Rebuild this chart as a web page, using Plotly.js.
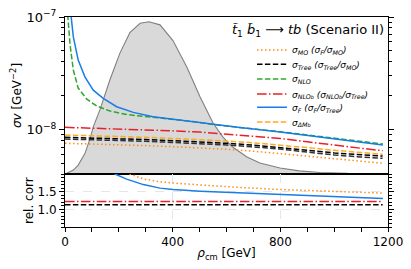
<!DOCTYPE html>
<html><head><meta charset="utf-8">
<script src="https://cdn.plot.ly/plotly-3.0.1.min.js"></script>
<style>html,body{margin:0;padding:0;background:#fff}#chart{width:411px;height:269px}</style>
</head><body><div id="chart"></div>
<script>
// ---- data ----
const rho = [0,100,200,300,400,500,600,700,800,900,1000,1100,1180];
const sigmaMO   = [0.7561e-8,0.7468e-8,0.7347e-8,0.7214e-8,0.7053e-8,0.6883e-8,0.6689e-8,0.6435e-8,0.6139e-8,0.5810e-8,0.5521e-8,0.5246e-8,0.5026e-8];
const sigmaTree = [0.8546e-8,0.8442e-8,0.8305e-8,0.8154e-8,0.7973e-8,0.7780e-8,0.7561e-8,0.7287e-8,0.6967e-8,0.6568e-8,0.6203e-8,0.5979e-8,0.5822e-8];
const sigmaTreeB= [0.8254e-8,0.8154e-8,0.8022e-8,0.7876e-8,0.7700e-8,0.7514e-8,0.7302e-8,0.7024e-8,0.6717e-8,0.6317e-8,0.5954e-8,0.5716e-8,0.5566e-8];
const sigmaNLOb = [1.048e-8,1.033e-8,1.0165e-8,0.9959e-8,0.9758e-8,0.9503e-8,0.9142e-8,0.8758e-8,0.8339e-8,0.7796e-8,0.7258e-8,0.6830e-8,0.6502e-8];
const sigmaDMb  = [0.8956e-8,0.8847e-8,0.8704e-8,0.8546e-8,0.8356e-8,0.8154e-8,0.7924e-8,0.7638e-8,0.7302e-8,0.6925e-8,0.6554e-8,0.6266e-8,0.6040e-8];

const rhoF   = [22,31,49,74,105,142,192,254,327,401,476,565,650,799,947,1050,1181];
const sigmaF = [1.05e-7,6.66e-8,4.14e-8,2.94e-8,2.24e-8,1.894e-8,1.596e-8,1.423e-8,1.301e-8,1.233e-8,1.174e-8,1.098e-8,1.044e-8,0.952e-8,0.860e-8,0.801e-8,0.730e-8];

const rhoNLO   = [10,19,31,49,81,118,167,229,353,476,565,650,799,947,1050,1181];
const sigmaNLO = [1.05e-7,5.62e-8,3.376e-8,2.338e-8,1.867e-8,1.619e-8,1.462e-8,1.361e-8,1.267e-8,1.179e-8,1.098e-8,1.048e-8,0.958e-8,0.869e-8,0.809e-8,0.745e-8];

const rhoDist = [0,15,31,49,74,93,105,130,167,204,241,279,312,353,401,453,502,550,587,624,676,724,799,870,947,1050,1200];
const dist    = [0,0.01,0.025,0.057,0.13,0.225,0.30,0.41,0.60,0.77,0.90,0.96,0.97,0.95,0.85,0.68,0.49,0.325,0.235,0.17,0.108,0.07,0.038,0.02,0.01,0.004,0.001];

const ratioTree = [1.13,1.13,1.13,1.13,1.13,1.135,1.135,1.135,1.135,1.135,1.13,1.13,1.13];
const ratioNLOb = [1.225,1.225,1.225,1.225,1.225,1.225,1.225,1.225,1.225,1.22,1.22,1.22,1.22];
const rhoRF  = [140,186,229,291,353,402,502,650,799,947,1181];
const ratioF = [2.3,2.0,1.856,1.70,1.60,1.56,1.515,1.47,1.42,1.375,1.31];
const rhoRMO  = [200,241,291,353,415,502,576,650,799,947,1181];
const ratioMO = [2.15,2.0,1.86,1.78,1.735,1.69,1.65,1.62,1.56,1.52,1.46];

const xTicks = [0,400,800,1200];
const names = [
  '<i>σ<sub>MO</sub> (σ<sub>F</sub>/σ<sub>MO</sub>)</i>',
  '<i>σ<sub>Tree</sub> (σ<sub>Tree</sub>/σ<sub>MO</sub>)</i>',
  '<i>σ<sub>NLO</sub></i>',
  '<i>σ<sub>NLO<span style="font-size:5px">b</span></sub> (σ<sub>NLO<span style="font-size:5px">b</span></sub>/σ<sub>Tree</sub>)</i>',
  '<i>σ<sub>F</sub> (σ<sub>F</sub>/σ<sub>Tree</sub>)</i>',
  '<i>σ<sub>ΔM<span style="font-size:5px">b</span></sub></i>'
];

// ---- styles ----
const cMO='#ff8c1a', cDM='#ffaa22', cTree='#000000', cNLO='#2ca82c', cNLOb='#e8202a', cF='#1a7ce6';
const dDot='1.5px,2.5px', dDash='5.5px,2.4px', dDashDot='9.6px,2.4px,1.5px,2.4px';
const W=1.5;

const traces = [
  {x:rhoDist, y:dist, xaxis:'x', yaxis:'y', mode:'lines', fill:'tozeroy', fillcolor:'#d9d9d9',
   line:{color:'#808080', width:1.1}, showlegend:false, hoverinfo:'skip'},
  {x:rho, y:sigmaMO, xaxis:'x', yaxis:'y3', mode:'lines', name:names[0], legend:'legend', line:{color:cMO,width:W,dash:dDot}},
  {x:rho, y:sigmaTree, xaxis:'x', yaxis:'y3', mode:'lines', name:names[1], legend:'legend2', line:{color:cTree,width:W,dash:dDash}},
  {x:rho, y:sigmaTreeB, xaxis:'x', yaxis:'y3', mode:'lines', showlegend:false, line:{color:'#333333',width:W,dash:dDash}},
  {x:rhoNLO, y:sigmaNLO, xaxis:'x', yaxis:'y3', mode:'lines', name:names[2], legend:'legend3', line:{color:cNLO,width:W,dash:dDash}},
  {x:rho, y:sigmaNLOb, xaxis:'x', yaxis:'y3', mode:'lines', name:names[3], legend:'legend4', line:{color:cNLOb,width:W,dash:dDashDot}},
  {x:rhoF, y:sigmaF, xaxis:'x', yaxis:'y3', mode:'lines', name:names[4], legend:'legend5', line:{color:cF,width:W}},
  {x:rho, y:sigmaDMb, xaxis:'x', yaxis:'y3', mode:'lines', name:names[5], legend:'legend6', line:{color:cDM,width:W,dash:dDash}},
  // ratio panel
  {x:rhoRMO, y:ratioMO, xaxis:'x2', yaxis:'y2', mode:'lines', showlegend:false, line:{color:cMO,width:W,dash:dDot}},
  {x:rho, y:ratioTree, xaxis:'x2', yaxis:'y2', mode:'lines', showlegend:false, line:{color:cTree,width:W,dash:dDash}},
  {x:rho, y:ratioNLOb, xaxis:'x2', yaxis:'y2', mode:'lines', showlegend:false, line:{color:cNLOb,width:W,dash:dDashDot}},
  {x:rhoRF, y:ratioF, xaxis:'x2', yaxis:'y2', mode:'lines', showlegend:false, line:{color:cF,width:W}}
];

const F = 'DejaVu Sans';
const tickFont = {family:F, size:12, color:'#000'};
const split = 53/210;
function leg(y){ return {x:0.579, y:y, xanchor:'left', yanchor:'top', bgcolor:'rgba(0,0,0,0)', borderwidth:0,
  font:{family:F, size:9, color:'#000'}, tracegroupgap:0}; }

const layout = {
  width:411, height:269,
  margin:{l:65, r:23, t:17, b:42, pad:0},
  paper_bgcolor:'#fff', plot_bgcolor:'rgba(0,0,0,0)',
  font:{family:F, color:'#000'},
  showlegend:true,
  xaxis:{domain:[0,1], anchor:'y', range:[0,1200], showticklabels:false, ticks:'', showgrid:false, zeroline:false,
    showline:true, linecolor:'#000', linewidth:1, mirror:true},
  yaxis:{domain:[split,1], anchor:'x', range:[0,1], visible:false, fixedrange:true},
  yaxis3:{overlaying:'y', anchor:'x', side:'left', type:'log', range:[-8.394,-7],
    tickvals:[1e-8,1e-7], ticktext:['10<sup>−8</sup>','10<sup>−7</sup>'], ticks:'outside', ticklen:5, tickcolor:'#000',
    minor:{tickvals:[4e-9,5e-9,6e-9,7e-9,8e-9,9e-9,2e-8,3e-8,4e-8,5e-8,6e-8,7e-8,8e-8,9e-8], ticks:'outside', ticklen:3, tickcolor:'#000', showgrid:false},
    showgrid:false, zeroline:false, showline:true, linecolor:'#000', linewidth:1, mirror:'ticks',
    tickfont:{family:F, size:13, color:'#000'},
    title:{text:'<i>σv</i> [GeV<sup>−2</sup>]', font:{family:F, size:12, color:'#000'}, standoff:2}},
  xaxis2:{domain:[0,1], anchor:'y2', matches:'x', range:[0,1200], tickvals:xTicks, ticktext:xTicks.map(String),
    ticks:'outside', ticklen:4, tickcolor:'#000',
    minor:{dtick:100, tick0:0, ticks:'outside', ticklen:4, tickcolor:'#000', showgrid:false},
    showgrid:true, gridcolor:'#e6e6e6', griddash:'dash', gridwidth:1, zeroline:false,
    showline:true, linecolor:'#000', linewidth:1, mirror:true, tickfont:tickFont,
    title:{text:'<i>ρ</i><sub>cm</sub> [GeV]', font:{family:F, size:12, color:'#000'}, standoff:0}},
  yaxis2:{domain:[0,split], anchor:'x2', range:[0.5,2.0], tickvals:[1.0,1.5], ticktext:['1.0','1.5'],
    ticks:'outside', ticklen:5, tickcolor:'#000',
    minor:{dtick:0.1, tick0:0, ticks:'outside', ticklen:3, tickcolor:'#000', showgrid:false},
    showgrid:true, gridcolor:'#e6e6e6', griddash:'dash', gridwidth:1, zeroline:false,
    showline:true, linecolor:'#000', linewidth:1, mirror:'ticks', tickfont:tickFont},
  legend:leg(0.912), legend2:leg(0.844), legend3:leg(0.774), legend4:leg(0.702), legend5:leg(0.639), legend6:leg(0.569),
  annotations:[
    {xref:'paper', yref:'paper', x:1, y:0.938, xanchor:'right', yanchor:'middle', xshift:-2, showarrow:false,
     text:'<i>t̃</i><sub>1</sub> <i>b̃</i><sub>1</sub> ⟶ <i>tb</i> (Scenario II)', font:{family:F, size:13, color:'#000'}},
    {xref:'paper', yref:'paper', x:-0.1115, y:0.1286, xanchor:'center', yanchor:'middle', textangle:-90, showarrow:false,
     text:'rel. corr', font:{family:F, size:12, color:'#000'}}
  ]
};

Plotly.newPlot('chart', traces, layout, {displayModeBar:false, staticPlot:true});
</script>
</body></html>
